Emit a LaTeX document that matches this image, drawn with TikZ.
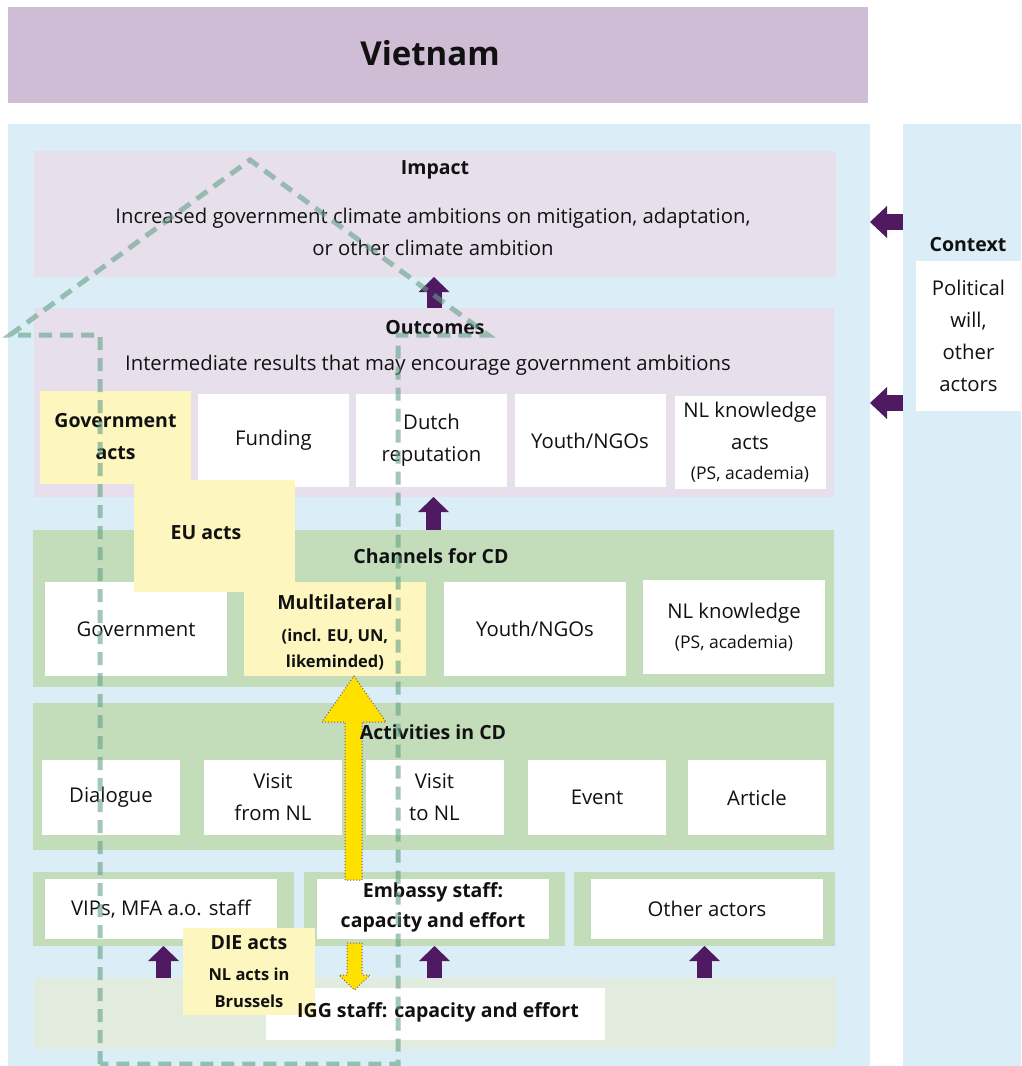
\documentclass[tikz,border=0pt]{standalone}
\usepackage{fontspec}
\setmainfont{Open Sans}
\usetikzlibrary{arrows.meta}
\definecolor{bannerc}{HTML}{CFBDD6}
\definecolor{bluec}{HTML}{DBEEF7}
\definecolor{lavc}{HTML}{E7E0EC}
\definecolor{greenc}{HTML}{C3DDBB}
\definecolor{yelc}{HTML}{FDF6BE}
\definecolor{iggc}{HTML}{E1ECDF}
\definecolor{purpc}{HTML}{4F1A62}
\definecolor{yarrowc}{HTML}{FFE100}
\definecolor{youtc}{HTML}{7A5A70}
\definecolor{housec}{RGB}{100,160,135}
\definecolor{txtc}{HTML}{111111}
\newcommand\fnorm{\fontsize{20.3}{32}\selectfont}
\newcommand\fsml{\fontsize{17.5}{31}\selectfont}
\newcommand\fbd{\fontsize{19.5}{32}\selectfont\bfseries}
\newcommand\fsbd{\fontsize{16.5}{26}\selectfont\bfseries}
\newcommand\fhd{\fontsize{19.5}{30}\selectfont\bfseries}
\newcommand\fttl{\fontsize{33}{40}\selectfont\bfseries}
\begin{document}
\begin{tikzpicture}[x=1pt,y=-1pt,
  rbox/.style={inner sep=0pt, outer sep=0pt, align=center, text=txtc, font=\fnorm},
  wbox/.style={rbox, fill=white},
  ybox/.style={rbox, fill=yelc},
  gbox/.style={rbox, fill=greenc},
  lbox/.style={rbox, fill=lavc},
  head/.style={inner sep=0pt, text=txtc, font=\fhd, align=center},
  txt/.style={inner sep=0pt, text=txtc, font=\fnorm, align=center},
  btxt/.style={inner sep=0pt, text=txtc, font=\fbd, align=center},
  parrow/.style={draw=purpc, line width=15pt, -{Triangle[width=31pt,length=15pt,line width=0pt]}},
  carrow/.style={draw=purpc, line width=16pt, -{Triangle[width=32pt,length=17pt,line width=0pt]}},
  yarrow/.style={fill=yarrowc, draw=youtc, line width=1pt, dotted},
  house/.style={draw=housec, draw opacity=0.6, line width=5pt, dash pattern=on 13pt off 8pt}
]
\useasboundingbox (0,0) rectangle (1021,1066);
\fill[white] (0,0) rectangle (1021,1066);

% panels
\node[rbox, fill=bannerc, minimum width=860, minimum height=96] (banner) at (438,55) {};
\node[inner sep=0pt, text=txtc, font=\fttl] (title) at (430,53) {Vietnam};
\node[rbox, fill=bluec, minimum width=862, minimum height=942] (mainpanel) at (439,595) {};
\node[rbox, fill=bluec, minimum width=118, minimum height=942] (ctxpanel) at (962,595) {};
\node[head] (ctxhead) at (968,245) {Context};
\node[wbox, minimum width=105, minimum height=150] (ctxbox) at (968.5,336) {Political\\will,\\other\\actors};

% impact
\node[lbox, minimum width=802, minimum height=126] (impact) at (435,214) {};
\node[head] (impacthead) at ([yshift=-19pt]impact.north) {Impact};
\node[txt] (impacttxt) at (433,232) {Increased government climate ambitions on mitigation, adaptation,\\or other climate ambition};

% outcomes
\node[lbox, minimum width=800, minimum height=189] (outcomes) at (434,402.5) {};
\node[head] (outhead) at (435,328) {Outcomes};
\node[txt] (outtxt) at (428,365) {Intermediate results that may encourage government ambitions};
\node[ybox, minimum width=151, minimum height=93, font=\fbd] (o1) at (115.5,437) {Government\\acts};
\node[wbox, minimum width=151, minimum height=93] (o2) at (273.5,440.5) {Funding};
\node[wbox, minimum width=151, minimum height=93] (o3) at (431.5,440.5) {Dutch\\reputation};
\node[wbox, minimum width=151, minimum height=93] (o4) at (590,440.5) {Youth/NGOs};
\node[wbox, minimum width=151, minimum height=93] (o5) at (750,442) {NL knowledge\\acts\\[-2pt]\fsml (PS, academia)};

% channels
\node[gbox, minimum width=801, minimum height=157] (channels) at (433.5,608.5) {};
\node[wbox, minimum width=182, minimum height=94] (c1) at (136,629) {Government};
\node[ybox, minimum width=182, minimum height=94] (c2) at (335,629) {};
\node[btxt] (c2txt) at (335,632) {Multilateral\\[0pt]\fsbd (incl. EU, UN,\\[-6pt]\fsbd likeminded)};
\node[wbox, minimum width=182, minimum height=94] (c3) at (535,629) {Youth/NGOs};
\node[wbox, minimum width=182, minimum height=94] (c4) at (734,627) {NL knowledge\\[-2pt]\fsml (PS, academia)};
\node[ybox, minimum width=161, minimum height=112] (eu) at (214.5,536) {};
\node[btxt] (eutxt) at (206,533) {EU acts};
\node[head] (chanhead) at (431,556) {Channels for CD};

% activities
\node[gbox, minimum width=801, minimum height=147] (activities) at (433.5,776.5) {};
\node[wbox, minimum width=138, minimum height=75] (a1) at (111,797.5) {Dialogue};
\node[wbox, minimum width=138, minimum height=75] (a2) at (273,797.5) {Visit\\from NL};
\node[wbox, minimum width=138, minimum height=75] (a3) at (434.5,797.5) {Visit\\to NL};
\node[wbox, minimum width=138, minimum height=75] (a4) at (597,797.5) {Event};
\node[wbox, minimum width=138, minimum height=75] (a5) at (757,797.5) {Article};

% bottom frames
\node[gbox, minimum width=261, minimum height=74] (fL) at (163.5,909) {};
\node[gbox, minimum width=261, minimum height=74] (fM) at (434.5,909) {};
\node[gbox, minimum width=261, minimum height=74] (fR) at (704.5,909) {};
\node[wbox, minimum width=232, minimum height=60] (bL) at (161,909) {VIPs, MFA a.o. staff};
\node[wbox, minimum width=232, minimum height=60] (bM) at (433,909) {};
\node[wbox, minimum width=232, minimum height=60] (bR) at (707,909) {Other actors};

% IGG band
\node[rbox, fill=iggc, minimum width=802, minimum height=71] (igg) at (435,1013.5) {};
\node[wbox, minimum width=339, minimum height=52] (iggbox) at (435.5,1014) {};
\node[ybox, minimum width=132, minimum height=87] (die) at (249,971.5) {};
\node[btxt] (dietxt) at (249,972) {DIE acts\\[-1pt]\fsbd NL acts in\\[-5pt]\fsbd Brussels};
\node[btxt] (iggtxt) at (438,1012) {IGG staff: capacity and effort};

% yellow arrows
\path[yarrow] (345,880) -- (345,722) -- (322,722) -- (354,676) -- (386,722) -- (362,722) -- (362,880) -- cycle;
\path[yarrow] (347,943) -- (362,943) -- (362,975) -- (370,975) -- (354.5,990) -- (339,975) -- (347,975) -- cycle;

\node[head] (acthead) at (433,732) {Activities in CD};
\node[btxt] (embtxt) at (433,907) {Embassy staff:\\[-2pt]capacity and effort};

% purple arrows
\draw[parrow] (outcomes.north) -- (outcomes.north |- impact.south);
\draw[parrow] (channels.north) -- (channels.north |- outcomes.south);
\draw[parrow] (fL.south |- igg.north) -- (fL.south);
\draw[parrow] (fM.south |- igg.north) -- (fM.south);
\draw[parrow] (fR.south |- igg.north) -- (fR.south);
\coordinate (ctxA) at (903,222);
\coordinate (ctxB) at (903,403);
\draw[carrow] (ctxA) -- (mainpanel.east |- ctxA);
\draw[carrow] (ctxB) -- (mainpanel.east |- ctxB);

% dashed house
\draw[house] (100,1064) -- (100,335) -- (10,335) -- (250,160) -- (488,335) -- (398,335) -- (398,1064) -- cycle;
\end{tikzpicture}
\end{document}
